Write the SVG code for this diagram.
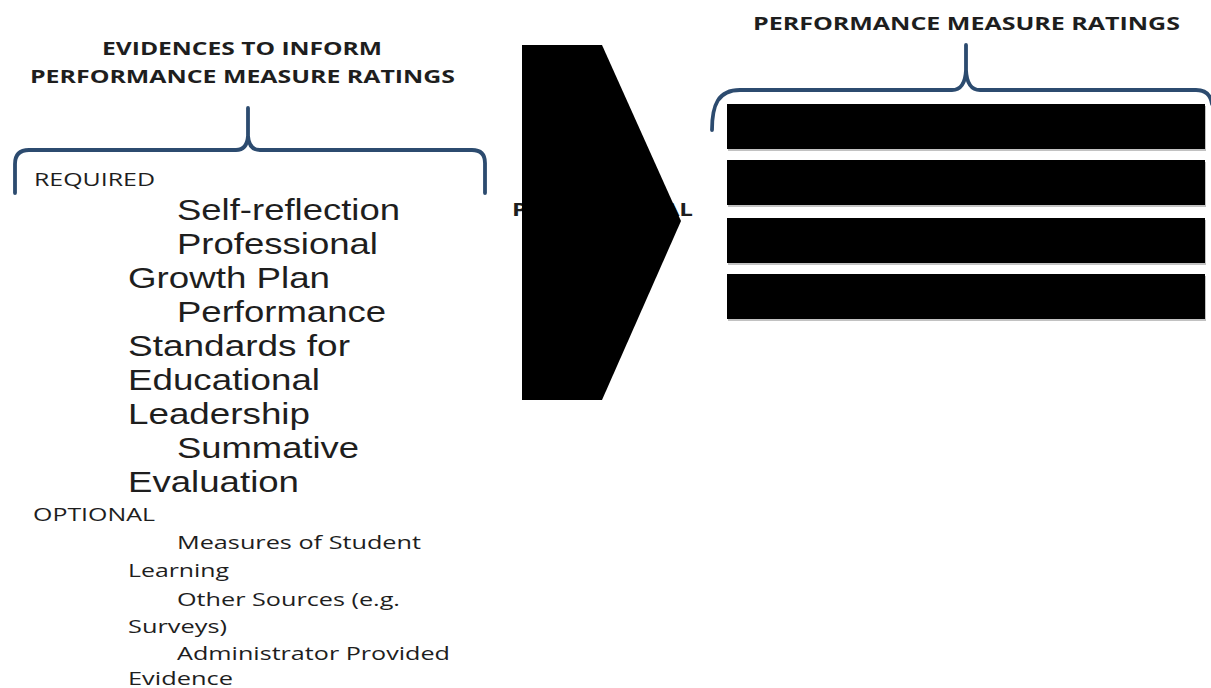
<svg xmlns="http://www.w3.org/2000/svg" width="1211" height="688" viewBox="0 0 1211 688">
<style>
.title{font-family:"Open Sans","Liberation Sans",sans-serif;font-weight:bold;font-size:18px;fill:#1e1e1e}
.small{font-family:"Open Sans","Liberation Sans",sans-serif;font-size:18px;fill:#1e1e1e}
.big{font-family:"Liberation Sans",Arial,sans-serif;font-size:29px;fill:#1e1e1e}
.brace{fill:none;stroke:#2c4b6f;stroke-width:3.8;stroke-linecap:round;stroke-linejoin:round}
.bar{fill:#000}
.shadow{fill:#9a9a9a;opacity:0.6}
</style>
<rect width="1211" height="688" fill="#fff"/>
<g id="left-title">
<text class="title" x="102" y="55" textLength="280" lengthAdjust="spacingAndGlyphs">EVIDENCES TO INFORM</text>
<text class="title" x="30" y="83" textLength="425" lengthAdjust="spacingAndGlyphs">PERFORMANCE MEASURE RATINGS</text>
</g>
<g id="right-title">
<text class="title" x="753" y="30" textLength="427" lengthAdjust="spacingAndGlyphs">PERFORMANCE MEASURE RATINGS</text>
</g>
<g id="connectors">
<path class="brace" d="M15,193 L15,164 Q15,150 29,150 L236,150 Q247,150 248,136 L248,108 L248,136 Q249,150 260,150 L472,150 Q485,150 485,163 L485,193"/>
<path class="brace" d="M712,130 C712,105 718,90 740,90 L952,90 Q965,90 966,70 L966,45 L966,70 Q967,90 980,90 L1196,90 Q1210,90 1212,104"/>
</g>
<g id="evidence-list">
<text class="small" x="34" y="186" textLength="121" lengthAdjust="spacingAndGlyphs">REQUIRED</text>
<text class="big" x="177" y="220" textLength="223" lengthAdjust="spacingAndGlyphs">Self-reflection</text>
<text class="big" x="177" y="254" textLength="201" lengthAdjust="spacingAndGlyphs">Professional</text>
<text class="big" x="128" y="288" textLength="202" lengthAdjust="spacingAndGlyphs">Growth Plan</text>
<text class="big" x="177" y="322" textLength="209" lengthAdjust="spacingAndGlyphs">Performance</text>
<text class="big" x="128" y="356" textLength="222" lengthAdjust="spacingAndGlyphs">Standards for</text>
<text class="big" x="128" y="390" textLength="192" lengthAdjust="spacingAndGlyphs">Educational</text>
<text class="big" x="128" y="424" textLength="182" lengthAdjust="spacingAndGlyphs">Leadership</text>
<text class="big" x="177" y="458" textLength="182" lengthAdjust="spacingAndGlyphs">Summative</text>
<text class="big" x="128" y="492" textLength="171" lengthAdjust="spacingAndGlyphs">Evaluation</text>
<text class="small" x="33" y="521" textLength="122" lengthAdjust="spacingAndGlyphs">OPTIONAL</text>
<text class="small" x="177" y="549" textLength="244" lengthAdjust="spacingAndGlyphs">Measures of Student</text>
<text class="small" x="128" y="577" textLength="101" lengthAdjust="spacingAndGlyphs">Learning</text>
<text class="small" x="177" y="606" textLength="223" lengthAdjust="spacingAndGlyphs">Other Sources (e.g.</text>
<text class="small" x="128" y="633" textLength="99" lengthAdjust="spacingAndGlyphs">Surveys)</text>
<text class="small" x="177" y="660" textLength="273" lengthAdjust="spacingAndGlyphs">Administrator Provided</text>
<text class="small" x="128" y="685" textLength="105" lengthAdjust="spacingAndGlyphs">Evidence</text>
</g>
<g id="chevron">
<text class="title" x="512" y="216" textLength="181" lengthAdjust="spacingAndGlyphs">PROFESSIONAL</text>
<polygon points="522,45 602,45 681,221 602,400 522,400" fill="#000"/>
</g>
<g id="ratings">
<rect class="shadow" x="728" y="106" width="478" height="45"/>
<rect class="bar" x="727" y="104" width="478" height="45"/>
<rect class="shadow" x="728" y="162" width="478" height="45"/>
<rect class="bar" x="727" y="160" width="478" height="45"/>
<rect class="shadow" x="728" y="220" width="478" height="45"/>
<rect class="bar" x="727" y="218" width="478" height="45"/>
<rect class="shadow" x="728" y="276" width="478" height="45"/>
<rect class="bar" x="727" y="274" width="478" height="45"/>
</g>
</svg>
